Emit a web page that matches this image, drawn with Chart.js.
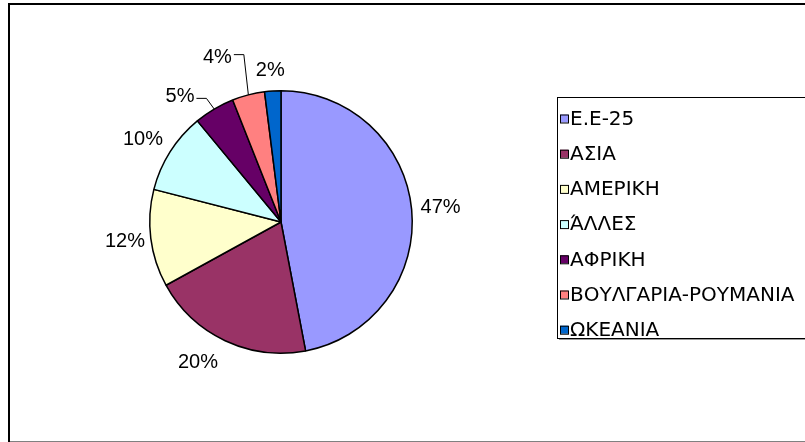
<!DOCTYPE html>
<html>
<head>
<meta charset="utf-8">
<script src="https://cdn.jsdelivr.net/npm/chart.js"></script>
<style>
  html, body { margin: 0; padding: 0; background: #fff; overflow: hidden; }
  #caixa { position: relative; width: 805px; height: 442px; }
</style>
</head>
<body>
<div id="caixa"><canvas id="grafico"></canvas></div>
<script>
// data
const categorias = ['Ε.Ε-25', 'ΑΣΙΑ', 'ΑΜΕΡΙΚΗ', 'ΆΛΛΕΣ', 'ΑΦΡΙΚΗ', 'ΒΟΥΛΓΑΡΙΑ-ΡΟΥΜΑΝΙΑ', 'ΩΚΕΑΝΙΑ'];
const valores = [47, 20, 12, 10, 5, 4, 2];
const cores = ['#9999FF', '#993366', '#FFFFCC', '#CCFFFF', '#660066', '#FF8080', '#0066CC'];

// outer frame of the picture
const moldura = {
  id: 'moldura',
  beforeDraw(chart) {
    const ctx = chart.ctx;
    ctx.save();
    ctx.fillStyle = '#fff';
    ctx.fillRect(0, 0, chart.width, chart.height);
    ctx.strokeStyle = '#000';
    ctx.lineWidth = 2;
    ctx.strokeRect(9, 4, 900, 438.5);
    ctx.restore();
  }
};

// percentage labels outside the slices, some moved with a leader line
const rotulos = {
  id: 'rotulos',
  afterDatasetsDraw(chart, args, opts) {
    const ctx = chart.ctx;
    const arcos = chart.getDatasetMeta(0).data;
    const dados = chart.data.datasets[0].data;
    const total = dados.reduce((a, b) => a + b, 0);
    ctx.save();
    ctx.font = '20px "Liberation Sans", Arial, sans-serif';
    ctx.fillStyle = '#000';
    ctx.textAlign = 'center';
    ctx.textBaseline = 'middle';
    arcos.forEach((arco, i) => {
      const p = arco.getProps(['x', 'y', 'startAngle', 'endAngle', 'outerRadius'], true);
      const meio = (p.startAngle + p.endAngle) / 2;
      const dx = Math.cos(meio), dy = Math.sin(meio);
      const desvio = opts.desvios[i] || [0, 0];
      const lx = p.x + dx * (p.outerRadius + opts.distancia) + desvio[0];
      const ly = p.y + dy * (p.outerRadius + opts.distancia) + desvio[1];
      const texto = Math.round(dados[i] / total * 100) + '%';
      ctx.fillText(texto, lx, ly);
      if (opts.guias.includes(i)) {
        const w = ctx.measureText(texto).width;
        const gy = ly + (desvio[1] > 0 ? 2 : -3);
        ctx.beginPath();
        ctx.strokeStyle = '#000';
        ctx.lineWidth = 1;
        ctx.moveTo(lx + w / 2 + 2, gy);
        ctx.lineTo(lx + w / 2 + 12, gy);
        ctx.lineTo(p.x + dx * p.outerRadius, p.y + dy * p.outerRadius);
        ctx.stroke();
      }
    });
    ctx.restore();
  }
};

// boxed legend on the right
const legenda = {
  id: 'legenda',
  afterDraw(chart, args, opts) {
    const ctx = chart.ctx;
    const ds = chart.data.datasets[0];
    ctx.save();
    // shadow and border
    ctx.fillStyle = '#9a9a9a';
    ctx.fillRect(opts.x + 2, opts.y + opts.altura, 900, 2);
    ctx.fillStyle = '#fff';
    ctx.fillRect(opts.x, opts.y, 900, opts.altura);
    ctx.strokeStyle = '#000';
    ctx.lineWidth = 1;
    ctx.strokeRect(opts.x + 0.5, opts.y + 0.5, 900, opts.altura);
    ctx.font = opts.fonte;
    ctx.textAlign = 'left';
    ctx.textBaseline = 'middle';
    chart.data.labels.forEach((nome, i) => {
      const cy = opts.primeira + i * opts.passo;
      ctx.fillStyle = ds.backgroundColor[i];
      ctx.fillRect(opts.x + 3, cy - 4, 8, 8);
      ctx.strokeRect(opts.x + 3.5, cy - 3.5, 8, 8);
      ctx.fillStyle = '#000';
      ctx.fillText(nome, opts.x + 13, cy + 1);
    });
    ctx.restore();
  }
};

new Chart(document.getElementById('grafico'), {
  type: 'pie',
  data: {
    labels: categorias,
    datasets: [{
      data: valores,
      backgroundColor: cores,
      borderColor: '#000',
      borderWidth: 1.5
    }]
  },
  options: {
    responsive: true,
    maintainAspectRatio: false,
    animation: false,
    layout: { padding: { left: 149, right: 392, top: 90, bottom: 88 } },
    plugins: {
      legend: { display: false },
      tooltip: { enabled: false },
      rotulos: {
        distancia: 24,
        desvios: [[5, 0], [-17, 0], [-2, 0], [-7, 1], [-22, 8], [-25, -14], [-1, 3]],
        guias: [4, 5]
      },
      legenda: {
        x: 557, y: 97, altura: 241,
        primeira: 118.5, passo: 35.2,
        fonte: '20px "DejaVu Sans", sans-serif'
      }
    }
  },
  plugins: [moldura, rotulos, legenda]
});
</script>
</body>
</html>
